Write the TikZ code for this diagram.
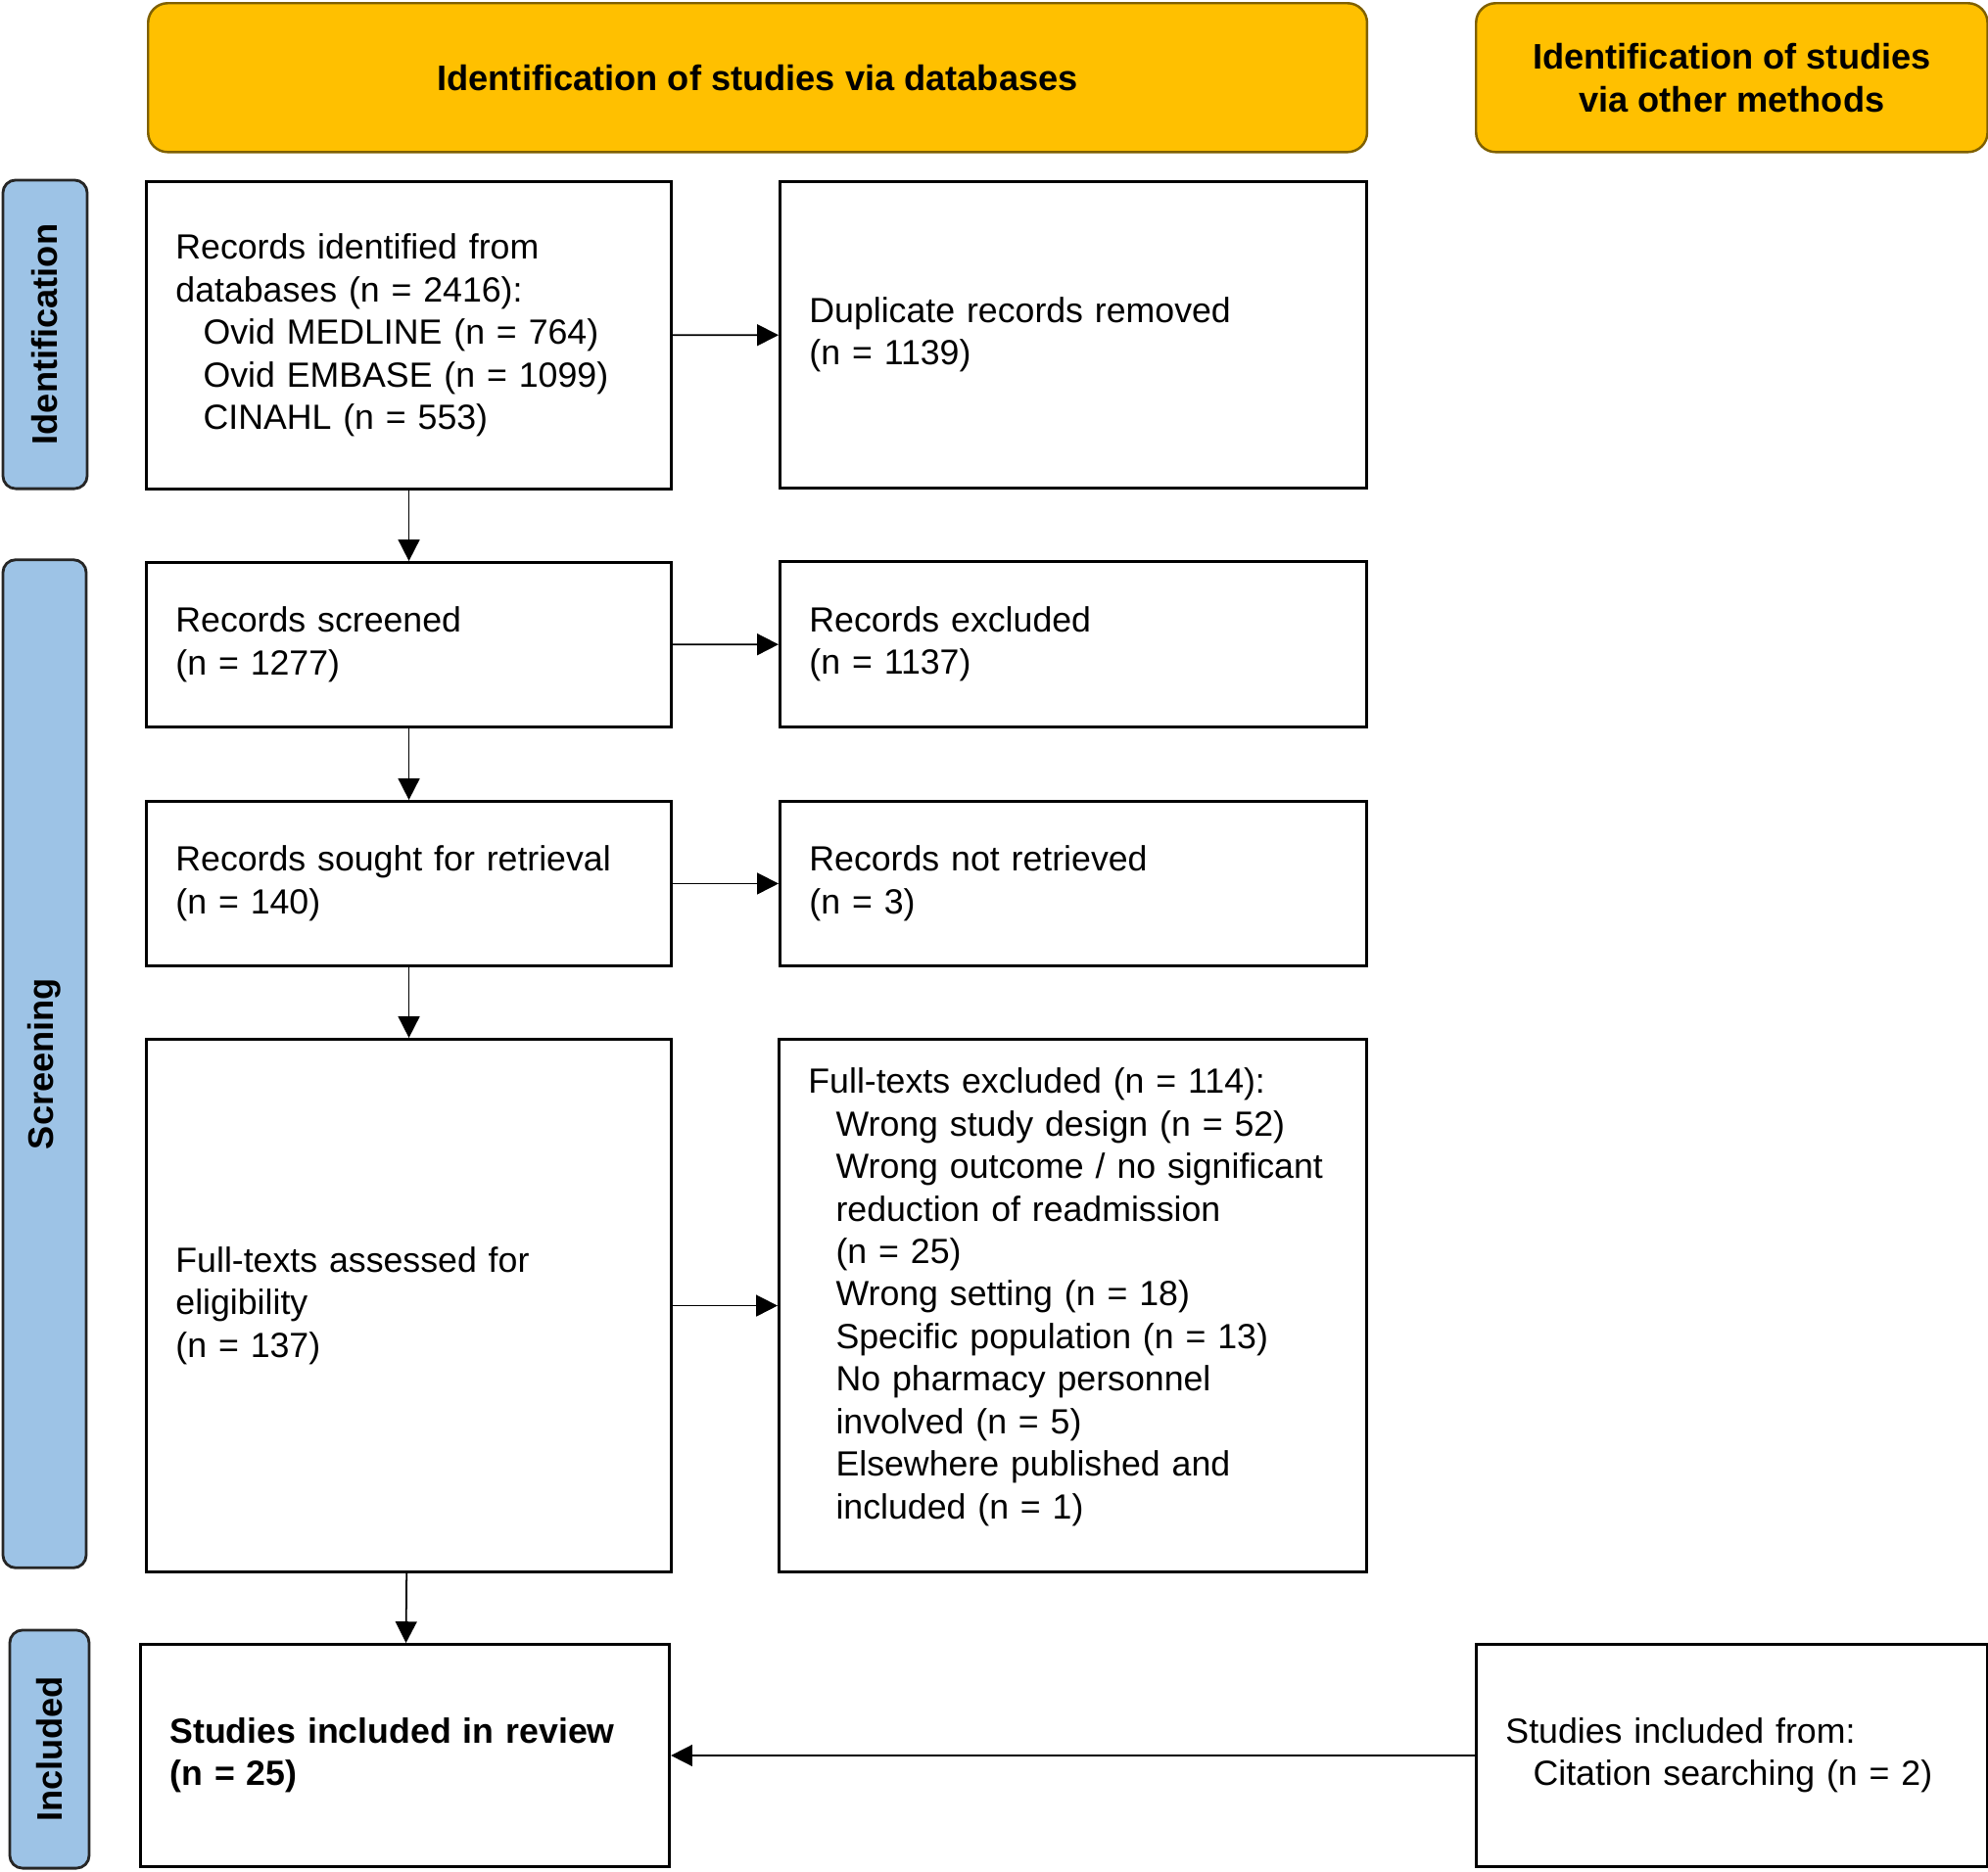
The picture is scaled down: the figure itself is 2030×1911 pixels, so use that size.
\documentclass[tikz,border=0pt]{standalone}
\usepackage{fontspec}
\setmainfont{Liberation Sans}
\usetikzlibrary{arrows.meta,shapes}

\definecolor{hdryellow}{HTML}{FFC000}
\definecolor{hdrborder}{HTML}{7F6000}
\definecolor{phaseblue}{HTML}{9DC3E6}
\newcommand{\indnt}{\hspace*{8pt}}

\begin{document}
\begin{tikzpicture}[x=0.01cm, y=-0.01cm,
every node/.style = {font=\fontsize{10.15}{12.35}\selectfont},
header/.style = {rectangle, rounded corners=0.2cm, draw=hdrborder, line width=0.7pt,
                 fill=hdryellow, font=\fontsize{10.3}{12.5}\selectfont\bfseries,
                 align=center, anchor=north west, inner sep=2pt},
phase/.style = {rectangle, rounded corners=0.13cm, draw=black!85, line width=0.8pt,
                fill=phaseblue, rotate=90, font=\fontsize{10.3}{12.5}\selectfont\bfseries,
                inner sep=2pt},
block/.style = {rectangle, draw=black, line width=0.8pt, align=left, anchor=north west,
                inner xsep=0.3cm, inner ysep=2pt},
line/.style = {draw, line width=0.5pt, -{Triangle[length=6.2pt, width=6.2pt]}}]

\useasboundingbox (0,0) rectangle (2030,1911);

% headers
\node [header, minimum width=12.44cm, minimum height=1.52cm] (viadb) at (150,2)
      {Identification of studies via databases};
\node [header, minimum width=5.22cm, minimum height=1.52cm] (viaother) at (1506,2)
      {Identification of studies\\via other methods};

% phases
\node [phase, minimum width=3.15cm, minimum height=0.86cm] (identification) at (46,341.5) {Identification};
\node [phase, minimum width=10.29cm, minimum height=0.85cm] (screening) at (45.5,1086.5) {Screening};
\node [phase, minimum width=2.43cm, minimum height=0.81cm] (includedphase) at (50.5,1786.5) {Included};

% identification
\node [block, text width=4.76cm, minimum height=3.14cm] (records) at (148,184)
      {Records identified from\\databases (n = 2416):\\\indnt Ovid MEDLINE (n = 764)\\
       \indnt Ovid EMBASE (n = 1099)\\\indnt CINAHL (n = 553)};
\node [block, text width=5.39cm, minimum height=3.13cm] (duplicates) at (795,184)
      {Duplicate records removed\\(n = 1139)};

% screening
\node [block, text width=4.76cm, minimum height=1.68cm] (screened) at (148,573)
      {Records screened\\(n = 1277)};
\node [block, text width=5.39cm, minimum height=1.69cm] (excluded) at (795,572)
      {Records excluded\\(n = 1137)};
\node [block, text width=4.76cm, minimum height=1.68cm] (sought) at (148,817)
      {Records sought for retrieval\\(n = 140)};
\node [block, text width=5.39cm, minimum height=1.68cm] (notretrieved) at (795,817)
      {Records not retrieved\\(n = 3)};
\node [block, text width=4.76cm, minimum height=5.44cm] (assessed) at (148,1060)
      {Full-texts assessed for\\eligibility\\(n = 137)};
\node [block, text width=5.40cm, minimum height=5.44cm, text depth=130.7pt] (ftexcluded) at (794,1060)
      {Full-texts excluded (n = 114):\\\indnt Wrong study design (n = 52)\\
       \indnt Wrong outcome / no significant\\\indnt reduction of readmission\\
       \indnt (n = 25)\\\indnt Wrong setting (n = 18)\\\indnt Specific population (n = 13)\\
       \indnt No pharmacy personnel\\\indnt involved (n = 5)\\
       \indnt Elsewhere published and\\\indnt included (n = 1)};

% included
\node [block, text width=4.80cm, minimum height=2.27cm,
       font=\fontsize{10.15}{12.35}\selectfont\bfseries] (included) at (142,1678)
      {Studies included in review\\(n = 25)};
\node [block, text width=4.62cm, minimum height=2.27cm] (citation) at (1506,1678)
      {Studies included from:\\\indnt Citation searching (n = 2)};

\begin{scope}[every path/.style=line]
\path (records) -- (duplicates);
\path (records) -- (screened);
\path (screened) -- (excluded);
\path (screened) -- (sought);
\path (sought) -- (notretrieved);
\path (sought) -- (assessed);
\path (assessed) -- (ftexcluded);
\path (assessed) -- (included);
\path (citation) -- (included);
\end{scope}
\end{tikzpicture}
\end{document}
